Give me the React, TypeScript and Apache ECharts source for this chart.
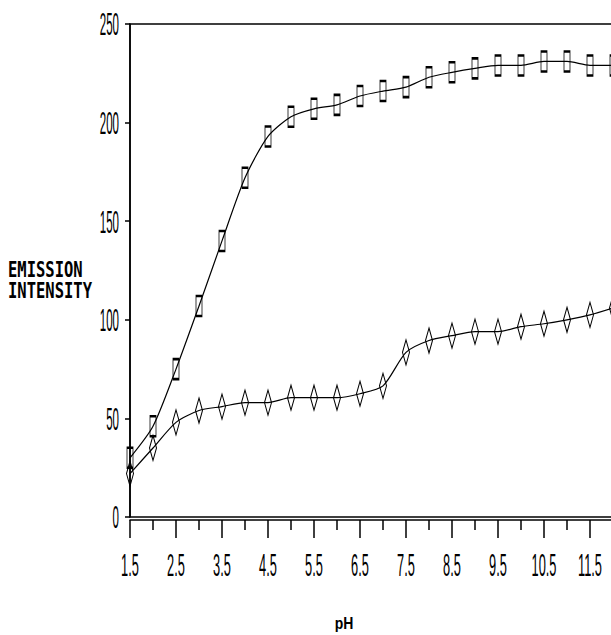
import React, { useEffect, useRef } from 'react';
import * as echarts from 'echarts';

const pH = [1.5, 2, 2.5, 3, 3.5, 4, 4.5, 5, 5.5, 6, 6.5, 7, 7.5, 8, 8.5, 9, 9.5, 10, 10.5, 11, 11.5, 12];
const squareSeries = [30, 46, 75, 107, 140, 172, 193, 203, 207, 209, 213.5, 216, 218, 223, 225.5, 227.5, 229, 229, 231, 231, 229, 229];
const diamondSeries = [22, 35, 48, 54, 56, 58, 58, 60.5, 60.5, 60.5, 62.5, 66.5, 83.5, 89.5, 92, 94, 94, 96.5, 98, 100, 102.5, 106];

const xMajorTicks = [1.5, 2.5, 3.5, 4.5, 5.5, 6.5, 7.5, 8.5, 9.5, 10.5, 11.5];
const xMinorTicks = [2, 3, 4, 5, 6, 7, 8, 9, 10, 11, 12];
const xTickLabels = ['1.5', '2.5', '3.5', '4.5', '5.5', '6.5', '7.5', '8.5', '9.5', '10.5', '11.5'];
const yTicks = [0, 50, 100, 150, 200, 250];
const yTickLabels = ['0', '50', '100', '150', '200', '250'];
const yTitle = ['EMISSION', 'INTENSITY'];
const xTitle = 'pH';

const black = '#000';
const axisLine = { color: black, width: 1.5 };

export default function App() {
  const ref = useRef<HTMLDivElement>(null);

  useEffect(() => {
    if (!ref.current) return;
    const chart = echarts.init(ref.current, undefined, { renderer: 'svg' });
    const option: any = {
      animation: false,
      backgroundColor: '#fff',
      grid: {
        left: 130, right: 12, top: 24, bottom: 118,
        show: true, borderColor: black, borderWidth: 1.5, backgroundColor: 'transparent',
      },
      xAxis: [
        {
          type: 'value', min: 1.5, max: 12, position: 'bottom', offset: 3,
          axisLine: { show: true, onZero: false, lineStyle: axisLine },
          axisTick: { show: true, customValues: xMajorTicks, length: 18, lineStyle: axisLine },
          axisLabel: { show: false, customValues: xMajorTicks },
          splitLine: { show: false },
        },
        {
          type: 'value', min: 1.5, max: 12, position: 'bottom', offset: 3,
          axisLine: { show: false, onZero: false },
          axisTick: { show: true, customValues: xMinorTicks, length: 10, lineStyle: axisLine },
          axisLabel: { show: false, customValues: xMinorTicks },
          splitLine: { show: false },
        },
      ],
      yAxis: {
        type: 'value', min: 0, max: 250, interval: 50,
        axisLine: { show: true, lineStyle: axisLine },
        axisTick: { show: true, length: 5, lineStyle: axisLine },
        axisLabel: { show: false },
        splitLine: { show: false },
      },
      series: [
        {
          type: 'line', name: 'Squares', xAxisIndex: 0,
          data: pH.map((x, i) => [x, squareSeries[i]]),
          smooth: 0.25,
          symbol: 'rect', symbolSize: [6, 20],
          lineStyle: { color: black, width: 1.2 },
          itemStyle: { color: 'rgba(255,255,255,0)', borderColor: black, borderWidth: 1.4 },
        },
        {
          type: 'line', name: 'Diamonds', xAxisIndex: 0,
          data: pH.map((x, i) => [x, diamondSeries[i]]),
          smooth: 0.25,
          symbol: 'diamond', symbolSize: [7, 25],
          lineStyle: { color: black, width: 1.2 },
          itemStyle: { color: 'rgba(255,255,255,0)', borderColor: black, borderWidth: 1.4 },
        },
      ],
    };
    chart.setOption(option);

    const tickFont = { fontFamily: 'Liberation Sans', fontSize: 16, fill: black };
    const graphics: any[] = [];
    yTicks.forEach((v, i) => {
      const py = chart.convertToPixel({ yAxisIndex: 0 }, v) as number;
      graphics.push({
        type: 'text', x: 119, y: py, scaleX: 0.72, scaleY: 2.0,
        style: { ...tickFont, text: yTickLabels[i], align: 'right', verticalAlign: 'middle', textAlign: 'right', textVerticalAlign: 'middle' },
      });
    });
    xMajorTicks.forEach((v, i) => {
      const px = chart.convertToPixel({ xAxisIndex: 0 }, v) as number;
      graphics.push({
        type: 'text', x: px, y: 565, scaleX: 0.8, scaleY: 2.0,
        style: { ...tickFont, text: xTickLabels[i], align: 'center', verticalAlign: 'middle', textAlign: 'center', textVerticalAlign: 'middle' },
      });
    });
    yTitle.forEach((t, i) => {
      graphics.push({
        type: 'text', x: 8, y: 270 + i * 21, scaleX: 1, scaleY: 1.35,
        style: { text: t, fontFamily: 'DejaVu Sans Mono', fontWeight: 'bold', fontSize: 15.5, fill: black, align: 'left', verticalAlign: 'middle', textAlign: 'left', textVerticalAlign: 'middle' },
      });
    });
    graphics.push({
      type: 'text', x: 344, y: 623, scaleX: 1, scaleY: 1.2,
      style: { text: xTitle, fontFamily: 'Liberation Sans', fontWeight: 'bold', fontSize: 14, fill: black, align: 'center', verticalAlign: 'middle', textAlign: 'center', textVerticalAlign: 'middle' },
    });
    chart.setOption({ graphic: graphics });

    return () => chart.dispose();
  }, []);

  return (
    <div style={{ position: 'fixed', left: 0, top: 0, width: 611, height: 635, overflow: 'hidden', background: '#fff' }}>
      <div ref={ref} style={{ position: 'absolute', left: 0, top: 0, width: 625, height: 635 }} />
    </div>
  );
}
